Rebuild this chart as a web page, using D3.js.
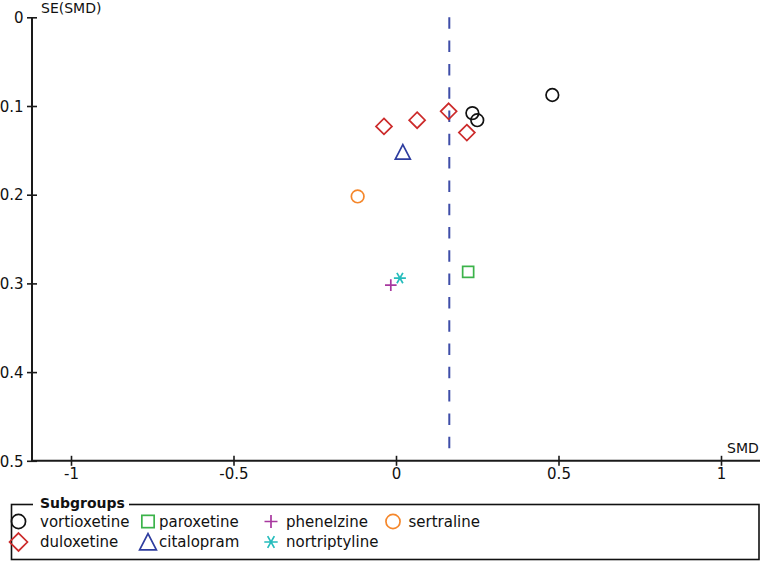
<!DOCTYPE html>
<html>
<head>
<meta charset="utf-8">
<script src="https://cdn.jsdelivr.net/npm/d3@7/dist/d3.min.js"></script>
<style>
  html, body { margin: 0; padding: 0; background: #fff; }
  svg { display: block; font-family: "DejaVu Sans", sans-serif; }
</style>
</head>
<body>
<svg id="chart" width="760" height="561"></svg>
<script>
// ---- data ----
const subgroups = ["vortioxetine", "paroxetine", "phenelzine", "sertraline",
                   "duloxetine", "citalopram", "nortriptyline"];
const pointGroup = ["vortioxetine", "vortioxetine", "vortioxetine",
                    "duloxetine", "duloxetine", "duloxetine", "duloxetine",
                    "citalopram", "sertraline", "paroxetine", "nortriptyline", "phenelzine"];
const smdValues = [0.481, 0.235, 0.250,
                   -0.037, 0.065, 0.162, 0.218,
                   0.021, -0.118, 0.222, 0.012, -0.016];
const seValues  = [0.0876, 0.108, 0.116,
                   0.123, 0.116, 0.106, 0.130,
                   0.152, 0.202, 0.287, 0.294, 0.302];
const pooledSMD = 0.164;
const xTicks = [-1, -0.5, 0, 0.5, 1];
const xTickLabels = ["-1", "-0.5", "0", "0.5", "1"];
const yTicks = [0, 0.1, 0.2, 0.3, 0.4, 0.5];
const yTickLabels = ["0", "0.1", "0.2", "0.3", "0.4", "0.5"];

// ---- styles ----
const colors = {
  vortioxetine: "#111111", duloxetine: "#cc2a2a", paroxetine: "#3cb34a",
  citalopram: "#2e3d9f", phenelzine: "#a8389f", nortriptyline: "#25bcbc",
  sertraline: "#f5872b"
};
const shapes = {
  vortioxetine: "circle", duloxetine: "diamond", paroxetine: "square",
  citalopram: "triangle", phenelzine: "plus", nortriptyline: "asterisk",
  sertraline: "circle"
};

const svg = d3.select("#chart");
const x = d3.scaleLinear().domain([-1.12, 1.12]).range([32, 760]);
const y = d3.scaleLinear().domain([0, 0.5]).range([17.3, 460.8]);

function drawSymbol(g, shape, color, k) {
  k = k || 1;
  const sw = 1.7;
  if (shape === "circle") {
    g.append("circle").attr("r", 6.3 * k).attr("fill", "none").attr("stroke", color).attr("stroke-width", sw);
  } else if (shape === "diamond") {
    const a = 8 * k;
    g.append("path").attr("d", `M0,${-a}L${a},0L0,${a}L${-a},0Z`).attr("fill", "none").attr("stroke", color).attr("stroke-width", sw);
  } else if (shape === "square") {
    const a = 5.5 * k;
    g.append("rect").attr("x", -a).attr("y", -a).attr("width", 2 * a).attr("height", 2 * a)
      .attr("fill", "none").attr("stroke", color).attr("stroke-width", sw);
  } else if (shape === "triangle") {
    const a = 7.5 * k;
    g.append("path").attr("d", `M0,${-a}L${a},${a * 0.93}L${-a},${a * 0.93}Z`).attr("fill", "none").attr("stroke", color).attr("stroke-width", sw);
  } else if (shape === "plus") {
    const a = 5.8 * k;
    g.append("path").attr("d", `M${-a},0H${a}M0,${-a}V${a}`).attr("stroke", color).attr("stroke-width", sw);
  } else if (shape === "asterisk") {
    const a = 6 * k;
    g.append("path").attr("d", `M${-a},0H${a}M${-a / 2},${-a * 0.87}L${a / 2},${a * 0.87}M${a / 2},${-a * 0.87}L${-a / 2},${a * 0.87}`)
      .attr("stroke", color).attr("stroke-width", sw);
  }
}

// dashed pooled line
svg.append("line")
  .attr("x1", x(pooledSMD)).attr("x2", x(pooledSMD))
  .attr("y1", y(0)).attr("y2", y(0.4875))
  .attr("stroke", "#3e4da8").attr("stroke-width", 2)
  .attr("stroke-dasharray", "11.5,11.8");

// axes
const axisColor = "#1a1a1a";
const xAxisG = svg.append("g").attr("transform", `translate(0,${y(0.5)})`)
  .call(d3.axisBottom(x).tickValues(xTicks).tickFormat((d, i) => xTickLabels[i]).tickSizeOuter(0).tickSize(5));
xAxisG.select(".domain").remove();
xAxisG.append("line").attr("x1", 32).attr("x2", 760).attr("stroke", axisColor).attr("stroke-width", 2);
xAxisG.selectAll(".tick line").attr("y1", -5).attr("y2", 5).attr("stroke", axisColor).attr("stroke-width", 1.6);
xAxisG.selectAll(".tick text").attr("y", 18).attr("dy", 0).attr("fill", "#111")
  .style("font-size", "15px").style("font-family", "DejaVu Sans, sans-serif");

const yAxisG = svg.append("g").attr("transform", `translate(${x(-1.12)},0)`)
  .call(d3.axisLeft(y).tickValues(yTicks).tickFormat((d, i) => yTickLabels[i]).tickSizeOuter(0).tickSize(5));
yAxisG.select(".domain").remove();
yAxisG.append("line").attr("y1", y(0)).attr("y2", y(0.5) + 1).attr("stroke", axisColor).attr("stroke-width", 2);
yAxisG.selectAll(".tick line").attr("x1", -5).attr("x2", 5).attr("stroke", axisColor).attr("stroke-width", 1.6);
yAxisG.selectAll(".tick text").attr("x", -8.5).attr("dy", "0.35em").attr("fill", "#111")
  .style("font-size", "15px").style("font-family", "DejaVu Sans, sans-serif");

svg.append("text").attr("x", 41).attr("y", 13).text("SE(SMD)")
  .style("font-size", "14px").attr("fill", "#111");
svg.append("text").attr("x", 727).attr("y", 453).text("SMD")
  .style("font-size", "14px").attr("fill", "#111");

// points
const pts = svg.append("g");
smdValues.forEach((v, i) => {
  const grp = pointGroup[i];
  const g = pts.append("g").attr("transform", `translate(${x(v)},${y(seValues[i])})`);
  drawSymbol(g, shapes[grp], colors[grp], 1);
});

// legend
const leg = svg.append("g");
leg.append("rect").attr("x", 11.5).attr("y", 504.5).attr("width", 747.5).attr("height", 55)
  .attr("fill", "none").attr("stroke", "#111").attr("stroke-width", 1.6);
leg.append("rect").attr("x", 33).attr("y", 498).attr("width", 96).attr("height", 12).attr("fill", "#fff");
leg.append("text").attr("x", 40).attr("y", 507.5).text("Subgroups")
  .style("font-size", "14px").style("font-weight", "bold").attr("fill", "#111");
const colSym = [18.5, 148, 271, 393];
const colTxt = [40, 159, 286, 408.5];
const rowY = [521.5, 542];
subgroups.forEach((s, i) => {
  const row = Math.floor(i / 4), col = i % 4;
  const g = leg.append("g").attr("transform", `translate(${colSym[col]},${rowY[row]})`);
  drawSymbol(g, shapes[s], colors[s], 1.12);
  leg.append("text").attr("x", colTxt[col]).attr("y", rowY[row]).attr("dy", "0.36em")
    .text(s).style("font-size", "15px").attr("fill", "#111");
});
</script>
</body>
</html>
